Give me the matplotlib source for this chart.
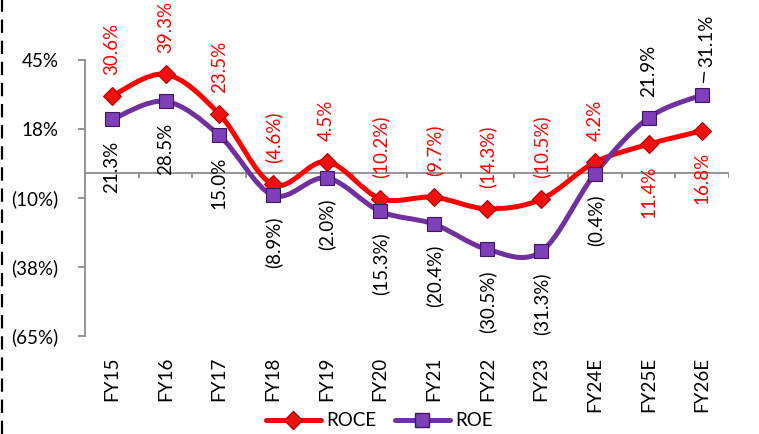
import matplotlib.pyplot as plt
import numpy as np
from matplotlib.path import Path
from matplotlib.patches import PathPatch
from matplotlib.lines import Line2D

plt.rcParams['font.family'] = ['Lato', 'DejaVu Sans']

years = ['FY15', 'FY16', 'FY17', 'FY18', 'FY19', 'FY20', 'FY21', 'FY22',
         'FY23', 'FY24E', 'FY25E', 'FY26E']
roce = [30.6, 39.3, 23.5, -4.6, 4.5, -10.2, -9.7, -14.3, -10.5, 4.2, 11.4, 16.8]
roe = [21.3, 28.5, 15.0, -8.9, -2.0, -15.3, -20.4, -30.5, -31.3, -0.4, 21.9, 31.1]

y_ticks = [-65, -37.5, -10, 17.5, 45]

RED = '#FF0000'
PURPLE = '#7030A0'
AXIS_GREY = '#8C8C8C'
FS = 13.5


def pct(v, dec=1):
    s = f'{abs(v):.{dec}f}%'
    return f'({s})' if v < 0 else s


def smooth_path(xs, ys):
    # excel-like smoothed line: cubic bezier segments through every point
    pts = np.column_stack([xs, ys]).astype(float)
    n = len(pts)
    verts = [pts[0]]
    codes = [Path.MOVETO]
    for i in range(n - 1):
        p0 = pts[i - 1] if i > 0 else pts[i]
        p1 = pts[i]
        p2 = pts[i + 1]
        p3 = pts[i + 2] if i + 2 < n else pts[i + 1]
        c1 = p1 + (p2 - p0) / 6.0
        c2 = p2 - (p3 - p1) / 6.0
        verts += [c1, c2, p2]
        codes += [Path.CURVE4] * 3
    return Path(verts, codes)


fig = plt.figure(figsize=(7.59, 4.34), dpi=100)
ax = fig.add_axes([85 / 759, 1 - 336 / 434, 644 / 759, 276 / 434])

x = np.arange(len(years))

ax.add_patch(PathPatch(smooth_path(x, roce), fill=False, edgecolor=RED,
                       lw=3.6, capstyle='round', joinstyle='round', zorder=3))
ax.add_patch(PathPatch(smooth_path(x, roe), fill=False, edgecolor=PURPLE,
                       lw=3.6, capstyle='round', joinstyle='round', zorder=3))

ax.plot(x, roce, ls='none', marker='D', ms=9.5, mfc='#F01010', mec='#B00000',
        mew=0.8, zorder=5)
ax.plot(x, roe, ls='none', marker='s', ms=10, mfc='#7F3FB8', mec='#3E1762',
        mew=0.8, zorder=5)

# data labels
for i, v in enumerate(roce):
    below = i >= 10
    ax.annotate(pct(v), (x[i], v), xytext=(0, -21 if below else 21),
                textcoords='offset pixels', rotation=90, ha='center',
                va='top' if below else 'bottom', color=RED, fontsize=FS)
for i, v in enumerate(roe):
    above = i >= 10
    if i == len(roe) - 1:
        ax.annotate(pct(v), (x[i], v), xytext=(5, 28),
                    textcoords='offset pixels', rotation=90, ha='center',
                    va='bottom', color='black', fontsize=FS,
                    arrowprops=dict(arrowstyle='-', color='black', lw=1,
                                    shrinkA=2, shrinkB=9))
        continue
    ax.annotate(pct(v), (x[i], v), xytext=(0, 21 if above else -21),
                textcoords='offset pixels', rotation=90, ha='center',
                va='bottom' if above else 'top', color='black', fontsize=FS)

# axes styling
ax.set_xlim(-0.5, len(years) - 0.5)
ax.set_ylim(-65, 45)
for side in ['top', 'right', 'bottom']:
    ax.spines[side].set_visible(False)
ax.spines['left'].set_color(AXIS_GREY)
ax.spines['left'].set_linewidth(1.3)

ax.set_yticks(y_ticks)
ax.set_yticklabels([pct(t, 0) for t in y_ticks])
ax.tick_params(axis='y', length=5, width=1.3, color=AXIS_GREY, pad=14,
               labelsize=FS)

ax.set_xticks(x)
ax.set_xticklabels(years, rotation=90)
ax.tick_params(axis='x', length=0, pad=15, labelsize=FS)

# zero line with category separators
ax.axhline(0, color=AXIS_GREY, lw=1.3, zorder=1)
tick_len = 5 * 110 / 276
ax.vlines(np.arange(len(years) + 1) - 0.5, -tick_len, 0, color=AXIS_GREY,
          lw=1.3, zorder=1)

handles = [
    Line2D([], [], color=RED, lw=3.6, marker='D', ms=9.5, mfc='#F01010',
           mec='#B00000', solid_capstyle='round'),
    Line2D([], [], color=PURPLE, lw=3.6, marker='s', ms=10, mfc='#7F3FB8',
           mec='#3E1762', solid_capstyle='round'),
]
fig.legend(handles, ['ROCE', 'ROE'], loc='center', bbox_to_anchor=(0.5, 1 - 421 / 434),
           ncol=2, frameon=False, fontsize=FS, handlelength=2.9,
           handletextpad=0.3, columnspacing=1.0)

# dashed border on the left edge
fig.add_artist(Line2D([1.5 / 759, 1.5 / 759], [0, 1], color='black', lw=1.6,
                      ls=(0, (6, 3.5)), transform=fig.transFigure))

fig.savefig('out.png', dpi=100)
